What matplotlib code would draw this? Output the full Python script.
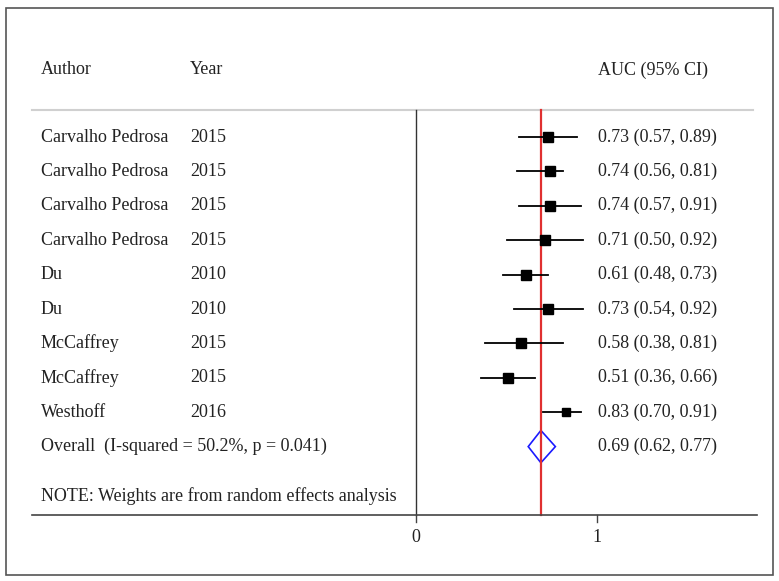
import matplotlib.pyplot as plt
from matplotlib.patches import Polygon, Rectangle

# study data
authors = ['Carvalho Pedrosa', 'Carvalho Pedrosa', 'Carvalho Pedrosa', 'Carvalho Pedrosa',
           'Du', 'Du', 'McCaffrey', 'McCaffrey', 'Westhoff']
years = ['2015', '2015', '2015', '2015', '2010', '2010', '2015', '2015', '2016']
auc = [0.73, 0.74, 0.74, 0.71, 0.61, 0.73, 0.58, 0.51, 0.83]
lower = [0.57, 0.56, 0.57, 0.50, 0.48, 0.54, 0.38, 0.36, 0.70]
upper = [0.89, 0.81, 0.91, 0.92, 0.73, 0.92, 0.81, 0.66, 0.91]
box_size = [7.2, 7.4, 7.4, 7.0, 7.0, 7.0, 7.0, 7.2, 6.2]

overall_label = 'Overall  (I-squared = 50.2%, p = 0.041)'
overall_auc = 0.69
overall_lower = 0.62
overall_upper = 0.77

xticks = [0, 1]

plt.rcParams['font.family'] = ['Liberation Serif', 'DejaVu Serif']
FS = 13

fig = plt.figure(figsize=(7.79, 5.81), dpi=100)
ax = fig.add_axes([0, 0, 1, 1])
ax.set_xlim(-416 / 181, (779 - 416) / 181)
ax.set_ylim((581 - 137) / 34.4, -137 / 34.4)
ax.axis('off')

fig.patches.append(Rectangle((6 / 779, 6 / 581), 767 / 779, 567 / 581,
                             transform=fig.transFigure, fill=False,
                             edgecolor='#555555', lw=1.2))

x_author = (41 - 416) / 181
x_year = (190 - 416) / 181
x_est = (598 - 416) / 181
y_head = -1.95
y_grey = -0.785
y_axis = 11.0
n = len(authors)
y_overall = n

ax.text(x_author, y_head, 'Author', fontsize=FS, va='center', color='#222222')
ax.text(x_year, y_head, 'Year', fontsize=FS, va='center', color='#222222')
ax.text(x_est, y_head, 'AUC (95% CI)', fontsize=FS, va='center', color='#222222')

ax.plot([(32 - 416) / 181, (753 - 416) / 181], [y_grey, y_grey], color='#d0d0d0', lw=1.5)

# null line and overall line
ax.plot([0, 0], [y_grey, y_axis], color='#333333', lw=1)
ax.plot([overall_auc, overall_auc], [y_grey, y_axis], color='#e03030', lw=1.6)

for i in range(n):
    ax.plot([lower[i], upper[i]], [i, i], color='black', lw=1.3)
    ax.plot(auc[i], i, marker='s', color='black', markersize=box_size[i])
    ax.text(x_author, i, authors[i], fontsize=FS, va='center', color='#222222')
    ax.text(x_year, i, years[i], fontsize=FS, va='center', color='#222222')
    ax.text(x_est, i, f'{auc[i]:.2f} ({lower[i]:.2f}, {upper[i]:.2f})',
            fontsize=FS, va='center', color='#222222')

diamond = Polygon([[overall_lower, y_overall], [overall_auc, y_overall - 0.47],
                   [overall_upper, y_overall], [overall_auc, y_overall + 0.47]],
                  closed=True, fill=False, edgecolor='#1a1aff', lw=1.2)
ax.add_patch(diamond)
ax.text(x_author, y_overall, overall_label, fontsize=FS, va='center', color='#222222')
ax.text(x_est, y_overall, f'{overall_auc:.2f} ({overall_lower:.2f}, {overall_upper:.2f})',
        fontsize=FS, va='center', color='#222222')

ax.text(x_author, 10.45, 'NOTE: Weights are from random effects analysis',
        fontsize=FS, va='center', color='#222222')

# bottom axis
ax.plot([(32 - 416) / 181, (757 - 416) / 181], [y_axis, y_axis], color='#444444', lw=1.2)
for t in xticks:
    ax.plot([t, t], [y_axis, y_axis + 0.18], color='#444444', lw=1)
    ax.text(t, 11.65, str(t), fontsize=FS, ha='center', va='center', color='#222222')

fig.savefig('out.png', dpi=100)
